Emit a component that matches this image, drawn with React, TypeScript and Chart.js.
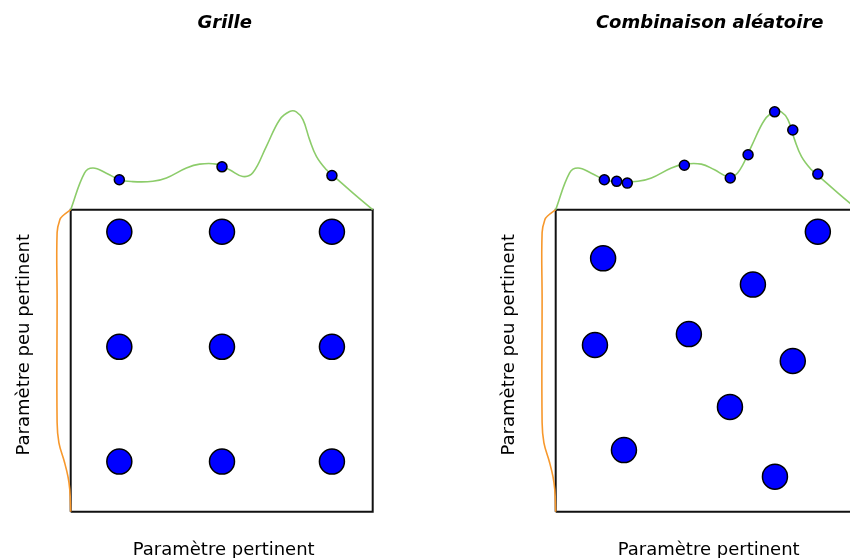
import React, { useEffect, useRef } from "react";
import { Chart, registerables } from "chart.js";

Chart.register(...registerables);

// ---- text ----
const PANEL_TITLES = ["Grille", "Combinaison aléatoire"];
const X_LABEL = "Paramètre pertinent";
const Y_LABEL = "Paramètre peu pertinent";

// ---- box outline (unit square) ----
const BOX_X = [0, 1, 1, 0, 0];
const BOX_Y = [0, 0, 1, 1, 0];

// ---- performance curve along the relevant parameter (sits on top of the box, y >= 1) ----
const CURVE_X = [0, 0.046, 0.074, 0.118, 0.162, 0.205, 0.272, 0.317, 0.383, 0.427, 0.482, 0.526, 0.57, 0.603, 0.648, 0.692, 0.725, 0.747, 0.769, 0.791, 0.814, 0.847, 0.869, 0.935, 1.0];
const CURVE_Y = [1.0, 1.122, 1.138, 1.121, 1.099, 1.093, 1.094, 1.105, 1.138, 1.151, 1.151, 1.132, 1.11, 1.122, 1.21, 1.298, 1.325, 1.324, 1.298, 1.232, 1.176, 1.132, 1.113, 1.055, 1.0];

// ---- performance curve along the unimportant parameter (left of the box, x <= 0) ----
const SIDE_X = [0, -0.026, -0.036, -0.045, -0.045, -0.045, -0.039, -0.02, -0.009, -0.003, 0];
const SIDE_Y = [1.0, 0.98, 0.967, 0.924, 0.702, 0.295, 0.228, 0.162, 0.116, 0.073, 0];

// ---- grid search ----
const GRID_X = [0.161, 0.501, 0.865, 0.161, 0.501, 0.865, 0.161, 0.501, 0.865];
const GRID_Y = [0.927, 0.927, 0.927, 0.546, 0.546, 0.546, 0.166, 0.166, 0.166];
const GRID_PROJ_X = [0.161, 0.501, 0.865];
const GRID_PROJ_Y = [1.099, 1.142, 1.113];

// ---- random search ----
const RAND_X = [0.157, 0.868, 0.653, 0.13, 0.441, 0.785, 0.577, 0.226, 0.726];
const RAND_Y = [0.839, 0.927, 0.752, 0.552, 0.588, 0.499, 0.347, 0.204, 0.116];
const RAND_PROJ_X = [0.161, 0.202, 0.237, 0.426, 0.578, 0.637, 0.725, 0.785, 0.868];
const RAND_PROJ_Y = [1.099, 1.094, 1.088, 1.147, 1.105, 1.182, 1.324, 1.264, 1.118];

const GREEN = "rgb(140,204,106)";
const ORANGE = "rgb(247,152,44)";
const BLUE = "#0000ff";

const zip = (xs: number[], ys: number[]) => xs.map((x, i) => ({ x, y: ys[i] }));

function makeLabelPlugin(title: string) {
  return {
    id: "panelLabels",
    afterDraw(chart: any) {
      const { ctx } = chart;
      const xs = chart.scales.x;
      const ys = chart.scales.y;
      const left = xs.getPixelForValue(0);
      const right = xs.getPixelForValue(1);
      const top = ys.getPixelForValue(1);
      const bottom = ys.getPixelForValue(0);
      const cx = (left + right) / 2;
      ctx.save();
      ctx.fillStyle = "#000";
      ctx.textAlign = "center";
      ctx.textBaseline = "alphabetic";
      ctx.font = 'italic bold 18px "DejaVu Sans"';
      ctx.fillText(title, cx + 3, 28);
      ctx.font = '18px "DejaVu Sans"';
      ctx.fillText(X_LABEL, cx + 2, bottom + 43);
      ctx.translate(left - 42, (top + bottom) / 2 - 16);
      ctx.rotate(-Math.PI / 2);
      ctx.fillText(Y_LABEL, 0, 0);
      ctx.restore();
    },
  };
}

function Panel({ title, ptsX, ptsY, projX, projY, left }: any) {
  const ref = useRef<HTMLCanvasElement | null>(null);
  useEffect(() => {
    if (!ref.current) return;
    const chart = new Chart(ref.current, {
      type: "scatter",
      data: {
        datasets: [
          {
            data: zip(projX, projY),
            pointRadius: 5,
            pointBackgroundColor: BLUE,
            pointBorderColor: "#000",
            pointBorderWidth: 1.5,
            showLine: false,
            order: 0,
            clip: false,
          } as any,
          {
            data: zip(ptsX, ptsY),
            pointRadius: 12.5,
            pointBackgroundColor: BLUE,
            pointBorderColor: "#000",
            pointBorderWidth: 1.5,
            showLine: false,
            order: 0,
            clip: false,
          },
          {
            data: zip(CURVE_X, CURVE_Y),
            showLine: true,
            borderColor: GREEN,
            borderWidth: 1.6,
            pointRadius: 0,
            tension: 0.4,
            order: 1,
            clip: false,
          },
          {
            data: zip(SIDE_X, SIDE_Y),
            showLine: true,
            borderColor: ORANGE,
            borderWidth: 1.6,
            pointRadius: 0,
            tension: 0.4,
            order: 1,
            clip: false,
          },
          {
            data: zip(BOX_X, BOX_Y),
            showLine: true,
            borderColor: "#111",
            borderWidth: 2,
            pointRadius: 0,
            tension: 0,
            order: 1,
            clip: false,
          },
        ],
      },
      options: {
        animation: false,
        responsive: false,
        maintainAspectRatio: false,
        devicePixelRatio: 1,
        layout: { autoPadding: false, padding: { left: 10.3, right: 7, top: 58.7, bottom: 31.2 } },
        scales: {
          x: { type: "linear", min: -0.2, max: 1.15, display: false },
          y: { type: "linear", min: -0.05, max: 1.5, display: false },
        },
        plugins: {
          legend: { display: false },
          tooltip: { enabled: false },
          title: { display: false },
        },
        events: [],
      },
      plugins: [makeLabelPlugin(title)],
    } as any);
    return () => chart.destroy();
  }, []);
  return (
    <div style={{ position: "absolute", left, top: 0, width: 425, height: 558 }}>
      <canvas ref={ref} width={425} height={558} style={{ display: "block", width: 425, height: 558 }} />
    </div>
  );
}

export default function App() {
  return (
    <div
      style={{
        position: "fixed",
        left: 0,
        top: 0,
        width: 850,
        height: 558,
        overflow: "hidden",
        background: "#fff",
      }}
    >
      <Panel title={PANEL_TITLES[0]} ptsX={GRID_X} ptsY={GRID_Y} projX={GRID_PROJ_X} projY={GRID_PROJ_Y} left={0} />
      <Panel title={PANEL_TITLES[1]} ptsX={RAND_X} ptsY={RAND_Y} projX={RAND_PROJ_X} projY={RAND_PROJ_Y} left={485} />
    </div>
  );
}
